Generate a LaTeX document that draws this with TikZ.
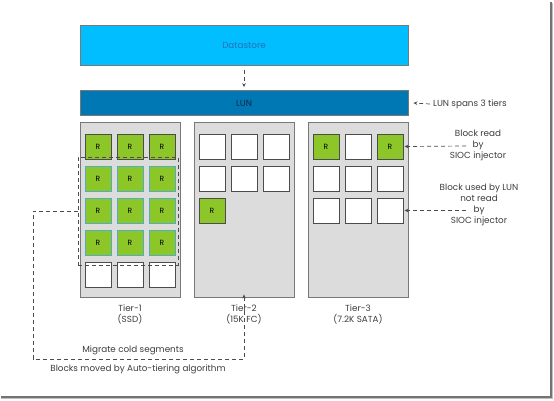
\documentclass[tikz,border=0pt]{standalone}
\usepackage{fontspec}
\setmainfont{Poppins}
\usetikzlibrary{arrows.meta}
\definecolor{dscyan}{RGB}{0,190,255}
\definecolor{dstext}{RGB}{40,110,180}
\definecolor{lunblue}{RGB}{0,120,180}
\definecolor{luntext}{RGB}{15,40,70}
\definecolor{tiergray}{RGB}{220,220,220}
\definecolor{tierline}{RGB}{120,120,120}
\definecolor{blkgreen}{RGB}{140,198,40}
\definecolor{teal}{RGB}{80,175,190}
\definecolor{txt}{RGB}{60,60,60}
\tikzset{
  lbl/.style={font=\fontsize{8.8}{11}\selectfont, text=txt, align=center, inner sep=0pt},
  bar/.style={draw=tierline, line width=0.8pt, minimum width=328pt, inner sep=0pt, font=\fontsize{8.8}{10}\selectfont},
  tierbox/.style={draw=tierline, fill=tiergray, line width=0.8pt, minimum width=100pt, minimum height=175pt, inner sep=0pt},
  blk/.style={draw=black!70, line width=1pt, fill=white, minimum width=26pt, minimum height=25pt, inner sep=0pt, font=\fontsize{7.5}{8}\selectfont},
  rblk/.style={blk, fill=blkgreen},
  tblk/.style={rblk, draw=teal},
  dline/.style={draw=black!70, line width=0.7pt, dash pattern=on 4pt off 3pt},
  darr/.style={dline, -{Stealth[length=4pt,width=3.5pt]}},
}
\begin{document}
\begin{tikzpicture}[x=1pt,y=-1pt]
\useasboundingbox (0,0) rectangle (554,400);
% frame shadow
\draw[black!55, line width=2pt] (1,396.5) -- (550.5,396.5) -- (550.5,2);
\draw[black!25, line width=1pt] (1,398.3) -- (552.3,398.3) -- (552.3,3);
% bars
\node[bar, fill=dscyan, minimum height=40pt, text=dstext] (ds) at (244,45.5) {Datastore};
\node[bar, fill=lunblue, minimum height=25pt, text=luntext] (lun) at (244,103) {LUN};
\draw[darr] ([yshift=-4pt]ds.south) -- ([yshift=3pt]lun.north);
% tiers
\node[tierbox] (t1) at (130,209.5) {};
\node[tierbox] (t2) at (244,209.5) {};
\node[tierbox] (t3) at (358,209.5) {};
% tier 1 blocks
\foreach \c in {1,2,3}{
  \node[rblk] (b1-1-\c) at (130+32*\c-64,146.5) {R};
}
\foreach \r in {2,3,4}{
  \foreach \c in {1,2,3}{
    \node[tblk] (b1-\r-\c) at (130+32*\c-64,146.5+32*\r-32) {R};
  }
}
\foreach \c in {1,2,3}{
  \node[blk] (b1-5-\c) at (130+32*\c-64,274.5) {};
}
% tier 2 blocks
\foreach \r in {1,2}{
  \foreach \c in {1,2,3}{
    \node[blk] (b2-\r-\c) at (244+32*\c-64,146.5+32*\r-32) {};
  }
}
\node[rblk] (b2-3-1) at (212,210.5) {R};
% tier 3 blocks
\node[rblk] (b3-1-1) at (326,146.5) {R};
\node[blk] (b3-1-2) at (358,146.5) {};
\node[rblk] (b3-1-3) at (390,146.5) {R};
\foreach \r in {2,3}{
  \foreach \c in {1,2,3}{
    \node[blk] (b3-\r-\c) at (358+32*\c-64,146.5+32*\r-32) {};
  }
}
% hot region
\node[dline, minimum width=100pt, minimum height=108pt, inner sep=0pt] (hot) at (128,211) {};
% tier labels
\node[lbl] (l1) at (130,314) {Tier-1\\(SSD)};
\node[lbl] (l2) at (244,314) {Tier-2\\(15K FC)};
\node[lbl] (l3) at (358,314) {Tier-3\\(7.2K SATA)};
% migration connector
\coordinate (c1) at (33,359);
\draw[darr] (hot.west) -| (c1) -| ([yshift=3pt]t2.south);
\node[lbl] (mig) at (133,350) {Migrate cold segments};
\node[lbl] (auto) at (138,369.5) {Blocks moved by Auto-tiering algorithm};
% right labels
\node[lbl, anchor=west] (span) at (433,104) {LUN spans 3 tiers};
\draw[darr] ([xshift=-3pt]span.west) -- ([xshift=5pt]lun.east);
\node[lbl] (rd) at (478,145.5) {Block read\\by\\SIOC injector};
\coordinate (rda) at (466,146);
\draw[darr] (rda) -- ([xshift=1pt]b3-1-3.east);
\node[lbl] (nr) at (479,204.5) {Block used by LUN\\not read\\by\\SIOC injector};
\coordinate (nra) at (466,210.5);
\draw[darr] (nra) -- ([xshift=1pt]b3-3-3.east);
\end{tikzpicture}
\end{document}
